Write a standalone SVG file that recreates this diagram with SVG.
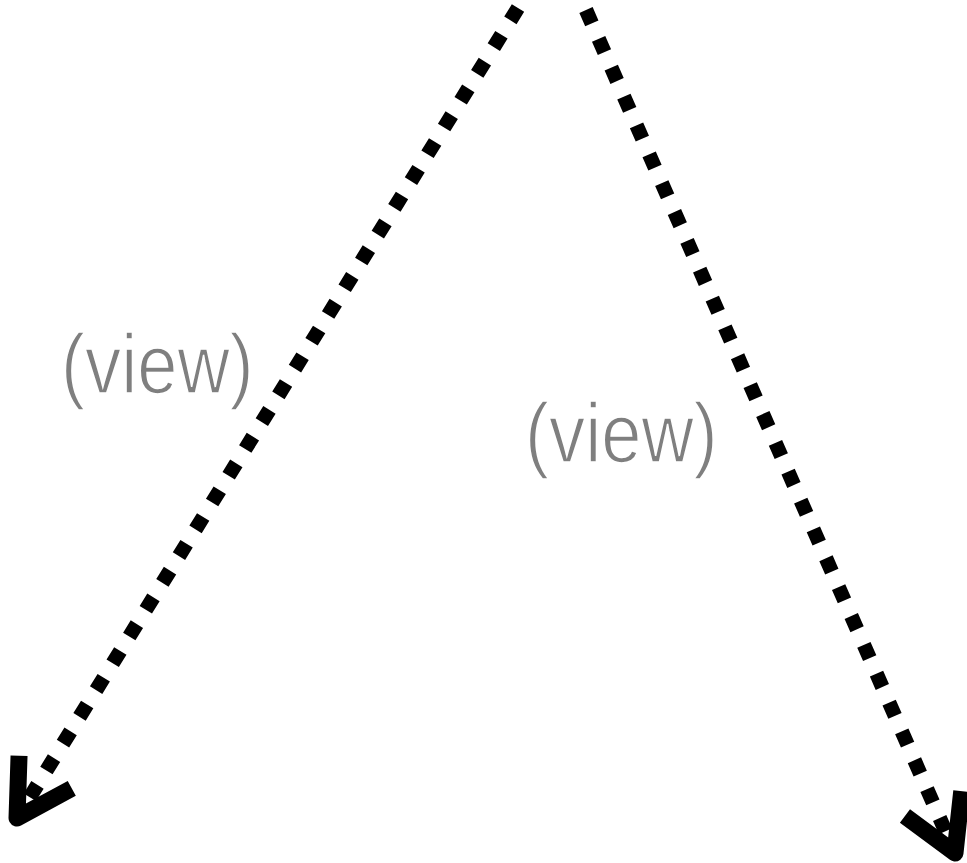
<svg xmlns="http://www.w3.org/2000/svg" width="967" height="863" viewBox="0 0 967 863">
<style>
.conn{fill:none;stroke:#000;stroke-width:14.5;stroke-dasharray:14.5 17}
.lbl{font-family:"Liberation Sans",Arial,sans-serif;font-size:84px;fill:#7f7f7f;stroke:#fff;stroke-width:1.6}
</style>
<defs>
<marker id="ah" markerUnits="userSpaceOnUse" orient="auto" refX="0" refY="0" markerWidth="200" markerHeight="200" viewBox="-100 -100 200 200" overflow="visible">
<path d="M-54,-31 L0,0 L-54,31" fill="none" stroke="#000" stroke-width="17" stroke-linejoin="round" stroke-linecap="butt" stroke-dasharray="none"/>
</marker>
</defs>
<rect width="967" height="863" fill="#fff"/>
<g id="connectors">
<line class="conn" x1="518" y1="8" x2="17" y2="818" marker-end="url(#ah)"/>
<line class="conn" x1="586" y1="10" x2="955" y2="853" marker-end="url(#ah)"/>
</g>
<g id="label-left">
<text class="lbl" transform="translate(61,393) scale(0.86,1)">(view)</text>
</g>
<g id="label-right">
<text class="lbl" transform="translate(525,462) scale(0.86,1)">(view)</text>
</g>
</svg>
